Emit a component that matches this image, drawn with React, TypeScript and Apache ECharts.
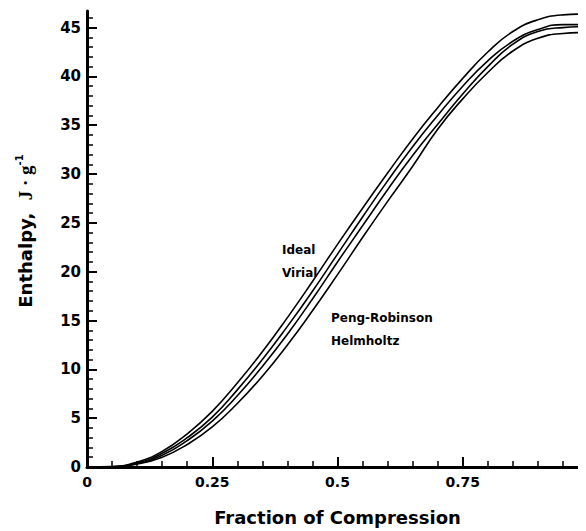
import React, { useEffect, useRef } from "react";
import * as echarts from "echarts";

const fraction = [0, 0.05, 0.1, 0.15, 0.2, 0.25, 0.3, 0.35, 0.4, 0.45, 0.5, 0.55, 0.6, 0.65, 0.7, 0.75, 0.8, 0.85, 0.9, 0.95, 1.0];
const ideal = [0, 0.05, 0.5, 1.6, 3.4, 5.7, 8.6, 11.8, 15.3, 19.0, 22.8, 26.5, 30.1, 33.6, 36.8, 39.8, 42.5, 44.6, 45.8, 46.3, 46.4];
const virial = [0, 0.03, 0.4, 1.4, 3.0, 5.1, 7.9, 11.0, 14.4, 18.0, 21.8, 25.6, 29.3, 32.8, 36.0, 39.0, 41.6, 43.6, 44.8, 45.3, 45.3];
const pengRobinson = [0, 0.02, 0.35, 1.2, 2.7, 4.7, 7.3, 10.3, 13.6, 17.2, 21.0, 24.7, 28.4, 31.9, 35.1, 38.2, 41.0, 43.3, 44.6, 45.0, 45.1];
const helmholtz = [0, 0.02, 0.3, 1.0, 2.3, 4.1, 6.5, 9.3, 12.5, 16.0, 19.7, 23.5, 27.2, 30.8, 34.6, 37.7, 40.4, 42.6, 43.9, 44.4, 44.5];
const seriesNames = ["Ideal", "Virial", "Peng-Robinson", "Helmholtz"];
const yTicks = [0, 5, 10, 15, 20, 25, 30, 35, 40, 45];
const xTicks = [0, 0.25, 0.5, 0.75, 1];

const BOLD = "'DejaVu Sans', sans-serif";

export default function App() {
  const ref = useRef<HTMLDivElement>(null);
  useEffect(() => {
    if (!ref.current) return;
    const chart = echarts.init(ref.current, undefined, { renderer: "svg" });
    const all = [ideal, virial, pengRobinson, helmholtz];
    chart.setOption({
      animation: false,
      backgroundColor: "#ffffff",
      grid: { left: 79, right: 20, top: 3, bottom: 53, containLabel: false },
      xAxis: {
        type: "value",
        min: 0,
        max: 1,
        interval: 0.25,
        name: "Fraction of Compression",
        nameLocation: "middle",
        nameGap: 41,
        nameTextStyle: { fontFamily: BOLD, fontWeight: "bold", fontSize: 18, color: "#000" },
        axisLine: { show: true, lineStyle: { color: "#000", width: 3 } },
        axisTick: { show: true, inside: true, length: 10, lineStyle: { color: "#000", width: 2 } },
        minorTick: { show: true, splitNumber: 5, length: 6, lineStyle: { color: "#000", width: 1.5 } },
        splitLine: { show: false },
        axisLabel: {
          margin: 8,
          fontFamily: BOLD,
          fontWeight: "bold",
          fontSize: 14,
          color: "#000",
          formatter: (v: number) => (xTicks.includes(v) ? String(v) : ""),
        },
      },
      yAxis: {
        type: "value",
        min: 0,
        max: 46.7,
        interval: 5,
        axisLine: { show: true, lineStyle: { color: "#000", width: 3 } },
        axisTick: { show: true, inside: true, length: 10, customValues: yTicks, lineStyle: { color: "#000", width: 2 } },
        minorTick: { show: true, splitNumber: 5, length: 6, lineStyle: { color: "#000", width: 1.5 } },
        splitLine: { show: false },
        axisLabel: {
          margin: 6,
          customValues: yTicks,
          fontFamily: BOLD,
          fontWeight: "bold",
          fontSize: 15,
          color: "#000",
          formatter: (v: number) => (yTicks.includes(v) ? String(v) : ""),
        },
      },
      series: all.map((vals, k) => ({
        name: seriesNames[k],
        type: "line",
        data: fraction.map((f, i) => [f, vals[i]]),
        smooth: true,
        showSymbol: false,
        symbol: "none",
        lineStyle: { color: "#000", width: 1.6 },
      })),
      graphic: [
        {
          type: "text",
          x: 17.5,
          y: 223,
          rotation: Math.PI / 2,
          style: {
            text: "{a|Enthalpy,  }{b|J · g}{c|-1}",
            align: "center",
            verticalAlign: "middle",
            fill: "#000",
            rich: {
              a: { fontFamily: BOLD, fontWeight: "bold", fontSize: 18, lineHeight: 22, fill: "#000" },
              b: { fontFamily: "'Liberation Serif', serif", fontWeight: "bold", fontSize: 19, lineHeight: 22, fill: "#000" },
              c: { fontFamily: BOLD, fontWeight: "bold", fontSize: 10, lineHeight: 10, verticalAlign: "top", fill: "#000" },
            },
          },
        },
        { type: "text", x: 274, y: 242, style: { text: "Ideal", fontFamily: BOLD, fontWeight: "bold", fontSize: 12, fill: "#000", verticalAlign: "middle" } },
        { type: "text", x: 274, y: 265, style: { text: "Virial", fontFamily: BOLD, fontWeight: "bold", fontSize: 12, fill: "#000", verticalAlign: "middle" } },
        { type: "text", x: 323, y: 310, style: { text: "Peng-Robinson", fontFamily: BOLD, fontWeight: "bold", fontSize: 12, fill: "#000", verticalAlign: "middle" } },
        { type: "text", x: 323, y: 333, style: { text: "Helmholtz", fontFamily: BOLD, fontWeight: "bold", fontSize: 12, fill: "#000", verticalAlign: "middle" } },
      ],
    });
    return () => chart.dispose();
  }, []);
  return (
    <div style={{ width: 578, height: 523, overflow: "hidden" }}>
      <div ref={ref} style={{ width: 600, height: 523 }} />
    </div>
  );
}
